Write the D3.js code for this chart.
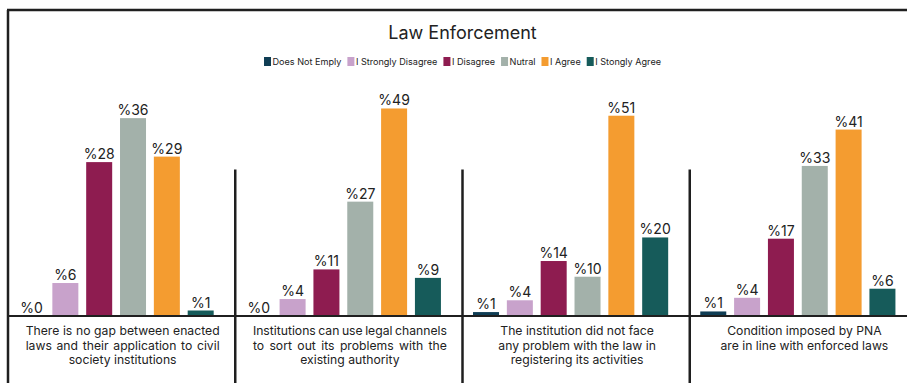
<!DOCTYPE html>
<html>
<head>
<meta charset="utf-8">
<script src="https://cdn.jsdelivr.net/npm/d3@7"></script>
<style>
  body { margin: 0; background: #fff; }
  svg { display: block; font-family: Inter, "Noto Sans", sans-serif; }
</style>
</head>
<body>
<svg id="chart" width="907" height="383"></svg>
<script>
// ---- data ----
const title = "Law Enforcement";
const responses = ["Does Not Emply", "I Strongly Disagree", "I Disagree", "Nutral", "I Agree", "I Stongly Agree"];
const responseColors = ["#0f3d54", "#c8a2cb", "#8e1c50", "#a3b1aa", "#f49c30", "#165b5a"];
const statements = [
  ["There is no gap between enacted", "laws and their application to civil", "society institutions"],
  ["Institutions can use legal channels", "to sort out its problems with the", "existing authority"],
  ["The institution did not face", "any problem with the law in", "registering its activities"],
  ["Condition imposed by PNA", "are in line with enforced laws"]
];
const noGapValues        = [0, 6, 28, 36, 29, 1];
const legalChannelValues = [0, 4, 11, 27, 49, 9];
const registrationValues = [1, 4, 14, 10, 51, 20];
const pnaConditionValues = [1, 4, 17, 33, 41, 6];
const seriesByStatement = [noGapValues, legalChannelValues, registrationValues, pnaConditionValues];
// each panel is its own small chart with its own (hidden) value axis
const axisMax = [39.3, 51, 55, 47.5];

// ---- layout ----
const W = 907, H = 383;
const frameLeft = 8, frameTop = 10, frameRight = 917;
const baseline = 316, plotTop = 100;
const ink = "#1f1f1f";
const labelSize = 12.2;

const svg = d3.select("#chart");

// panels across the frame
const panelX = d3.scaleBand()
  .domain(d3.range(statements.length))
  .range([frameLeft, frameRight])
  .padding(0);

// bars inside a panel
const barX = d3.scaleBand()
  .domain(responses)
  .range([6.6, 209.6])
  .paddingInner(0.2315)
  .paddingOuter(0.1157);

const color = d3.scaleOrdinal().domain(responses).range(responseColors);

// title
svg.append("text")
  .attr("x", (frameLeft + frameRight) / 2)
  .attr("y", 39)
  .attr("text-anchor", "middle")
  .attr("font-size", 18)
  .attr("fill", "#222")
  .text(title);

// legend, centred on the frame
const legend = svg.append("g");
let lx = 0;
responses.forEach((r, i) => {
  const item = legend.append("g").attr("transform", `translate(${lx},0)`);
  item.append("rect")
    .attr("x", 0).attr("y", -4.5)
    .attr("width", 7).attr("height", 9)
    .attr("fill", color(r));
  const t = item.append("text")
    .attr("x", 8.5).attr("y", 3.5)
    .attr("font-size", 9.1)
    .attr("fill", "#222")
    .text(r);
  lx += 8.5 + t.node().getComputedTextLength() + 6;
});
lx -= 6;
legend.attr("transform", `translate(${(frameLeft + frameRight) / 2 - lx / 2},61.5)`);

// panels
seriesByStatement.forEach((values, p) => {
  const x0 = panelX(p);
  const y = d3.scaleLinear().domain([0, axisMax[p]]).range([baseline, plotTop]);
  const g = svg.append("g").attr("transform", `translate(${x0},0)`);

  g.selectAll("rect.bar")
    .data(values)
    .join("rect")
    .attr("class", "bar")
    .attr("x", (d, i) => barX(responses[i]))
    .attr("y", d => y(d))
    .attr("width", barX.bandwidth())
    .attr("height", d => baseline - y(d))
    .attr("fill", (d, i) => color(responses[i]));

  g.selectAll("text.value")
    .data(values)
    .join("text")
    .attr("class", "value")
    .attr("x", (d, i) => barX(responses[i]) + barX.bandwidth() / 2)
    .attr("y", d => y(d) - 3)
    .attr("text-anchor", "middle")
    .attr("font-size", 14)
    .attr("fill", "#222")
    .text(d => "%" + d);

  // statement under the panel (first two panels are justified)
  const cx = panelX.bandwidth() / 2 + 1;
  const justify = p < 2;
  const blockWidth = 194;
  const lines = statements[p];
  lines.forEach((line, li) => {
    const yy = 335 + li * 14.5;
    const isLast = li === lines.length - 1;
    if (justify && !isLast) {
      const words = line.split(" ");
      const tmp = g.append("text").attr("font-size", labelSize);
      const widths = words.map(w => { tmp.text(w); return tmp.node().getComputedTextLength(); });
      tmp.remove();
      const gap = (blockWidth - d3.sum(widths)) / (words.length - 1);
      let wx = cx - blockWidth / 2;
      words.forEach((w, wi) => {
        g.append("text")
          .attr("x", wx).attr("y", yy)
          .attr("font-size", labelSize)
          .attr("fill", "#222")
          .text(w);
        wx += widths[wi] + gap;
      });
    } else {
      g.append("text")
        .attr("x", cx).attr("y", yy)
        .attr("text-anchor", "middle")
        .attr("font-size", labelSize)
        .attr("fill", "#222")
        .text(line);
    }
  });
});

// frame, baseline and panel dividers
svg.append("line")
  .attr("x1", frameLeft - 1).attr("x2", W)
  .attr("y1", frameTop).attr("y2", frameTop)
  .attr("stroke", ink).attr("stroke-width", 2.5);
svg.append("line")
  .attr("x1", frameLeft).attr("x2", frameLeft)
  .attr("y1", frameTop).attr("y2", H)
  .attr("stroke", ink).attr("stroke-width", 2.5);
svg.append("line")
  .attr("x1", frameLeft).attr("x2", W)
  .attr("y1", baseline).attr("y2", baseline)
  .attr("stroke", ink).attr("stroke-width", 2.2);
d3.range(1, statements.length).forEach(p => {
  svg.append("line")
    .attr("x1", panelX(p)).attr("x2", panelX(p))
    .attr("y1", 169.5).attr("y2", H)
    .attr("stroke", ink).attr("stroke-width", 2.5);
});
</script>
</body>
</html>
